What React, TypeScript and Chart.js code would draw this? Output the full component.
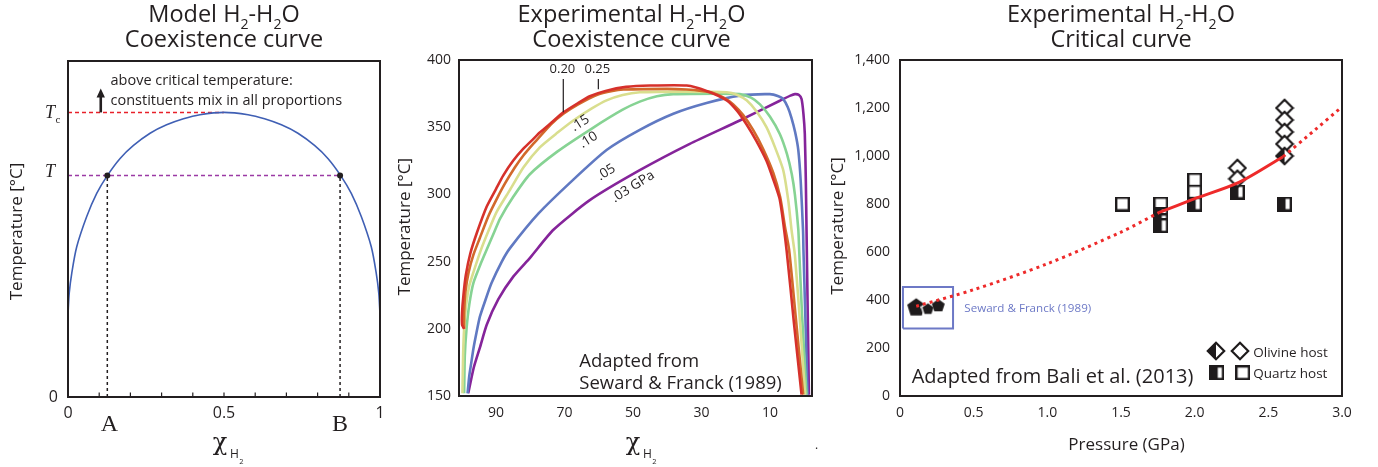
import React, { useEffect, useRef } from 'react';
import { Chart, registerables } from 'chart.js';

Chart.register(...registerables);

const SANS = '"Open Sans", "Noto Sans", sans-serif';
const SERIF = '"Liberation Serif", "DejaVu Serif", serif';
const CHI_FONT = '"DejaVu Serif", "Liberation Serif", serif';
const INK = '#231f20';
const W = 1378;
const H = 467;
const YW = 60;
const XH = 40;

// ---------------- Panel 1: model coexistence curve ----------------
const MODEL_X = [0, 0.004, 0.012, 0.028, 0.06, 0.092, 0.126, 0.167, 0.209, 0.263, 0.316, 0.37, 0.423, 0.5,
  0.577, 0.63, 0.684, 0.737, 0.791, 0.833, 0.874, 0.908, 0.94, 0.972, 0.988, 0.996, 1];
const MODEL_T = [0.246, 0.31, 0.368, 0.447, 0.537, 0.606, 0.659, 0.71, 0.748, 0.785, 0.81, 0.828, 0.84, 0.847,
  0.84, 0.828, 0.81, 0.785, 0.748, 0.71, 0.659, 0.606, 0.537, 0.447, 0.368, 0.31, 0.246];
const MODEL_TICK_LABELS = [0, 0.5, 1];
const T_CRIT = 0.847;
const T_LEVEL = 0.659;
const X_A = 0.126;
const X_B = 0.872;
const X_PEAK = 0.5;
const ARROW_X = 0.105;

// ---------------- Panel 2: experimental coexistence curves ----------------
const EXP_X_TICKS = [90, 70, 50, 30, 10];
const X_025 = [99.3, 99.9, 99.9, 99.5, 98.8, 97.5, 95.5, 92.7, 90.0, 87.9, 85.0, 82.0, 79.0, 77.2, 74.0, 70.3, 66.0, 62.6, 58.0, 52.0, 45.0, 34.3, 28.5, 22.6, 19.5, 16.8, 14.0, 11.0, 9.0, 7.1, 5.1, 3.0, 0.75];
const T_025 = [200, 203, 212, 225, 240, 256, 272, 291, 304, 314, 325, 334, 341.5, 346, 353, 361, 368, 373, 377, 380, 381, 381, 377, 370, 362, 352, 340, 325, 311, 296, 258, 205, 151];
const X_020 = [99.3, 99.3, 98.9, 98.0, 96.6, 94.8, 92.2, 89.5, 87.4, 84.5, 82.0, 79.0, 77.2, 74.0, 70.3, 66.0, 60.6, 56.0, 52.8, 40.0, 34.3, 30.0, 26.6, 23.5, 20.7, 17.8, 14.9, 12.0, 9.0, 7.0, 5.6, 4.4, 2.5, 0.27];
const T_020 = [200, 212, 228, 242, 255, 267, 284, 298, 308, 320, 329, 338, 343, 352, 360, 367, 374, 377, 378, 378.5, 378, 377, 375.5, 372, 367, 359, 348, 334, 316, 298, 276, 259, 210, 151];
const X_015 = [99.8, 99.6, 99.3, 98.7, 97.8, 96.6, 94.5, 92.0, 89.8, 86.0, 82.0, 77.2, 72.0, 67.4, 62.0, 57.7, 53.0, 48.0, 35.0, 22.6, 19.5, 16.8, 14.0, 11.0, 8.5, 6.1, 4.6, 3.7, 2.7, 1.2, -0.3];
const T_015 = [152, 180, 200, 218, 232, 242, 258, 274, 287, 303, 320, 335, 346, 355, 364, 370, 374, 376, 376.5, 376, 374, 370, 362, 350, 335, 318, 295, 274, 255, 205, 151];
const X_010 = [99.3, 99.1, 98.6, 97.8, 96.6, 94.2, 92.7, 90.5, 88.8, 85.0, 80.1, 72.0, 62.0, 53.0, 48.0, 43.0, 38.2, 25.0, 18.8, 15.5, 12.9, 10.0, 7.1, 5.0, 3.6, 2.7, 1.7, 1.45, 0.6, -0.7];
const T_010 = [152, 180, 200, 218, 234, 250, 259, 272, 282, 298, 315, 332, 349, 363, 369, 373, 374.6, 375, 374.6, 372, 367, 358, 345, 330, 315, 300, 274, 259, 210, 151];
const X_005 = [98.3, 97.8, 97.2, 96.6, 95.7, 94.7, 93.0, 91.3, 88.3, 85.9, 77.5, 67.4, 57.7, 48.0, 38.2, 28.5, 18.8, 10.0, 7.5, 6.1, 4.8, 3.7, 2.6, 1.7, 1.0, 0.3, 0.2, -0.4, -1.0];
const T_005 = [152, 165, 175, 185, 197, 209, 222, 234, 250, 260, 286, 311, 333, 348, 360, 368, 373.5, 374.6, 373, 370.9, 365, 357, 346, 333, 310, 272, 259, 205, 151];
const X_003 = [98.1, 96.5, 94.7, 92.7, 89.3, 84.9, 80.0, 73.3, 62.6, 48.0, 33.4, 18.8, 7.1, 4.0, 2.7, 1.5, 0.75, 0.2, -0.2, -0.5, -0.7, -1.4];
const T_003 = [152, 171, 186, 203, 222, 239, 253, 273.5, 295.7, 318, 337.6, 355, 369.7, 373.5, 374.6, 374, 371, 360, 345, 310, 274, 151];
const EXP_COLORS = ['#d6312b', '#d2692b', '#d9de8e', '#86d393', '#6079c2', '#85249a'];

// ---------------- Panel 3: critical curve ----------------
const CRIT_DOT_LOW_P = [0.11, 0.5, 1.0, 1.5, 1.76];
const CRIT_DOT_LOW_T = [374, 443, 551, 683, 765];
const CRIT_SOLID_P = [1.76, 2.0, 2.3, 2.6];
const CRIT_SOLID_T = [765, 822, 890, 997];
const CRIT_DOT_HIGH_P = [2.6, 2.8, 3.0];
const CRIT_DOT_HIGH_T = [997, 1100, 1205];
const QTZ_OPEN_P = [1.51, 1.77, 2.0, 2.0];
const QTZ_OPEN_T = [800, 800, 900, 850];
const QTZ_HALF_P = [1.77, 1.77, 1.77, 2.0, 2.29, 2.61];
const QTZ_HALF_T = [755, 730, 710, 800, 850, 800];
const OL_OPEN_P = [2.29, 2.29, 2.61, 2.61, 2.61, 2.61];
const OL_OPEN_T = [950, 905, 1200, 1150, 1100, 1050];
const OL_HALF_P = [2.61];
const OL_HALF_T = [1000];
const SF_P = [0.11, 0.19, 0.26];
const SF_T = [372, 366, 380];
const SF_BOX_P = [0.02, 0.36];
const SF_BOX_T = [281, 454];
const SF_BLUE = '#6d79c6';
const CRIT_RED = '#ee2a2a';

const pts = (xs: number[], ys: number[]) => xs.map((x, i) => ({ x, y: ys[i] }));

type Seg = { t: string; sub?: boolean };
function rich(ctx: CanvasRenderingContext2D, segs: Seg[], x: number, y: number, size: number, family: string) {
  const items = segs.map((s) => {
    const sz = s.sub ? size * 0.6 : size;
    const font = `${sz}px ${family}`;
    ctx.font = font;
    return { s, font, w: ctx.measureText(s.t).width, dy: s.sub ? size * 0.28 : 0 };
  });
  const total = items.reduce((a, b) => a + b.w, 0);
  let cx = x - total / 2;
  ctx.textAlign = 'left';
  ctx.textBaseline = 'alphabetic';
  for (const it of items) {
    ctx.font = it.font;
    ctx.fillText(it.s.t, cx, y + it.dy);
    cx += it.w;
  }
}
function drawTitle(ctx: CanvasRenderingContext2D, first: string, second: string, cx: number) {
  ctx.fillStyle = INK;
  rich(ctx, [{ t: first + ' H' }, { t: '2', sub: true }, { t: '-H' }, { t: '2', sub: true }, { t: 'O' }], cx, 22, 23.5, SANS);
  ctx.font = `23.5px ${SANS}`;
  ctx.textAlign = 'center';
  ctx.textBaseline = 'alphabetic';
  ctx.fillText(second, cx, 47);
}
function vtext(ctx: CanvasRenderingContext2D, t: string, x: number, y: number, size: number) {
  ctx.save();
  ctx.translate(x, y);
  ctx.rotate(-Math.PI / 2);
  ctx.font = `${size}px ${SANS}`;
  ctx.textAlign = 'center';
  ctx.textBaseline = 'middle';
  ctx.fillStyle = INK;
  ctx.fillText(t, 0, 0);
  ctx.restore();
}
function drawChi(ctx: CanvasRenderingContext2D, cx: number, base: number) {
  ctx.fillStyle = INK;
  ctx.textAlign = 'center';
  ctx.textBaseline = 'alphabetic';
  ctx.font = `24px ${CHI_FONT}`;
  ctx.fillText('χ', cx, base);
  ctx.textAlign = 'left';
  ctx.font = `12px ${SANS}`;
  ctx.fillText('H', cx + 10, base + 8);
  const hw = ctx.measureText('H').width;
  ctx.font = `7.5px ${SANS}`;
  ctx.fillText('2', cx + 10 + hw + 0.5, base + 13.5);
}
function frame(ctx: CanvasRenderingContext2D, a: any) {
  ctx.strokeStyle = INK;
  ctx.lineWidth = 2;
  ctx.strokeRect(a.left, a.top, a.right - a.left, a.bottom - a.top);
}

function makeMarker(kind: string): HTMLCanvasElement {
  const c = document.createElement('canvas');
  const g = c.getContext('2d')!;
  const dark = '#1e1b1c';
  if (kind === 'sqOpen' || kind === 'sqHalf') {
    const s = 15;
    c.width = s; c.height = s;
    g.fillStyle = '#fff';
    g.fillRect(0, 0, s, s);
    if (kind === 'sqHalf') { g.fillStyle = dark; g.fillRect(0, 0, 8.5, s); }
    g.strokeStyle = dark; g.lineWidth = 2.4;
    g.strokeRect(1.2, 1.2, s - 2.4, s - 2.4);
  } else if (kind === 'diOpen' || kind === 'diHalf') {
    const s = 20; const m = s / 2; const e = 1.8;
    c.width = s; c.height = s;
    const path = () => { g.beginPath(); g.moveTo(m, e); g.lineTo(s - e, m); g.lineTo(m, s - e); g.lineTo(e, m); g.closePath(); };
    path(); g.fillStyle = '#fff'; g.fill();
    if (kind === 'diHalf') {
      g.beginPath(); g.moveTo(m, e); g.lineTo(m, s - e); g.lineTo(e, m); g.closePath();
      g.fillStyle = dark; g.fill();
    }
    path(); g.strokeStyle = dark; g.lineWidth = 2.2; g.stroke();
  } else {
    const big = kind === 'pentBig';
    const r = big ? 9.5 : 6.8;
    const s = big ? 20 : 15;
    c.width = s; c.height = s;
    g.beginPath();
    for (let i = 0; i < 5; i++) {
      const ang = -Math.PI / 2 + (i * 2 * Math.PI) / 5;
      const px = s / 2 + r * Math.cos(ang);
      const py = s / 2 + 1 + r * Math.sin(ang);
      if (i === 0) g.moveTo(px, py); else g.lineTo(px, py);
    }
    g.closePath();
    g.fillStyle = dark; g.fill();
    if (kind === 'pentHalf') { g.strokeStyle = '#fff'; g.lineWidth = 1.5; g.stroke(); }
  }
  return c;
}

const baseOpts = (padding: any) => ({
  responsive: false,
  animation: false as const,
  devicePixelRatio: 1,
  events: [] as any[],
  layout: { padding },
  plugins: { legend: { display: false }, tooltip: { enabled: false }, title: { display: false } },
});

const hidden = { grid: { display: false, drawTicks: false }, border: { display: false } };
const fitX = (s: any) => { s.height = XH; };
const fitY = (s: any) => { s.width = YW; };

function config1(): any {
  const decor = {
    id: 'modelDecor',
    afterDraw(chart: any) {
      const { ctx, chartArea: a, scales: { x, y } } = chart;
      ctx.save();
      ctx.fillStyle = INK; ctx.strokeStyle = INK;
      ctx.lineWidth = 1.2;
      x.ticks.forEach((t: any) => {
        if (t.value <= 0.001 || t.value >= 0.999) return;
        const px = x.getPixelForValue(t.value);
        ctx.beginPath(); ctx.moveTo(px, a.bottom); ctx.lineTo(px, a.bottom - 4.5); ctx.stroke();
      });
      frame(ctx, a);
      const yc = y.getPixelForValue(T_CRIT);
      const yt = y.getPixelForValue(T_LEVEL);
      ctx.fillStyle = INK;
      ctx.font = `italic 18px ${SERIF}`; ctx.textAlign = 'left'; ctx.textBaseline = 'alphabetic';
      ctx.fillText('T', 45, yt + 1.5);
      ctx.fillText('T', 45, yc + 6);
      const tw = ctx.measureText('T').width;
      ctx.font = `11px ${SERIF}`;
      ctx.fillText('c', 45 + tw + 0.5, yc + 11);
      ctx.font = `24px ${SERIF}`; ctx.textAlign = 'center';
      ctx.fillText('A', x.getPixelForValue(X_A) + 2, 431);
      ctx.fillText('B', x.getPixelForValue(X_B), 431);
      drawChi(ctx, 220, 450);
      const ax = x.getPixelForValue(ARROW_X);
      ctx.lineWidth = 2.6;
      ctx.beginPath(); ctx.moveTo(ax, yc); ctx.lineTo(ax, yc - 16); ctx.stroke();
      ctx.beginPath(); ctx.moveTo(ax, yc - 24); ctx.lineTo(ax - 4.2, yc - 15); ctx.lineTo(ax + 4.2, yc - 15); ctx.closePath(); ctx.fill();
      ctx.font = `14.5px ${SANS}`; ctx.textAlign = 'left'; ctx.textBaseline = 'alphabetic';
      ctx.fillText('above critical temperature:', 110.5, 85);
      ctx.fillText('constituents mix in all proportions', 110.5, 105);
      vtext(ctx, 'Temperature [°C]', 17.5, 231.5, 17);
      drawTitle(ctx, 'Model', 'Coexistence curve', 224);
      ctx.restore();
    },
  };
  return {
    type: 'scatter',
    data: {
      datasets: [
        { data: [{ x: X_A, y: T_LEVEL }, { x: X_B, y: T_LEVEL }], pointRadius: 3, pointBackgroundColor: INK, pointBorderWidth: 0 },
        { data: MODEL_X.map((x, i) => ({ x, y: MODEL_T[i] })), showLine: true, borderColor: '#3f5fb4', borderWidth: 1.6, pointRadius: 0, tension: 0.3 },
        { data: [{ x: 0, y: T_CRIT }, { x: X_PEAK, y: T_CRIT }], showLine: true, borderColor: '#e8202a', borderWidth: 1.5, borderDash: [4, 3], pointRadius: 0 },
        { data: [{ x: 0, y: T_LEVEL }, { x: X_B, y: T_LEVEL }], showLine: true, borderColor: '#9b3aa5', borderWidth: 1.5, borderDash: [4, 3], pointRadius: 0 },
        { data: [{ x: X_A, y: 0 }, { x: X_A, y: T_LEVEL }], showLine: true, borderColor: INK, borderWidth: 1.5, borderDash: [3, 3], pointRadius: 0 },
        { data: [{ x: X_B, y: 0 }, { x: X_B, y: T_LEVEL }], showLine: true, borderColor: INK, borderWidth: 1.5, borderDash: [3, 3], pointRadius: 0 },
      ],
    },
    options: {
      ...baseOpts({ left: 68 - YW, right: W - 380, top: 61, bottom: H - 397 - XH }),
      scales: {
        x: {
          type: 'linear', min: 0, max: 1, ...hidden,
          afterFit: fitX,
          ticks: {
            stepSize: 0.1, autoSkip: false, maxRotation: 0, padding: 7, color: INK, font: { family: SANS, size: 16 },
            callback: (v: any) => (MODEL_TICK_LABELS.some((l) => Math.abs(l - v) < 1e-6) ? String(+v) : ''),
          },
        },
        y: {
          type: 'linear', min: 0, max: 1, ...hidden,
          afterFit: fitY,
          afterBuildTicks: (s: any) => { s.ticks = [{ value: 0 }]; },
          ticks: { padding: 10, color: INK, font: { family: SANS, size: 16 }, callback: (v: any) => String(v) },
        },
      },
    },
    plugins: [decor],
  };
}

function config2(): any {
  const series = [
    [X_025, T_025], [X_020, T_020], [X_015, T_015], [X_010, T_010], [X_005, T_005], [X_003, T_003],
  ];
  const decor = {
    id: 'expDecor',
    afterDraw(chart: any) {
      const { ctx, chartArea: a, scales: { x, y } } = chart;
      ctx.save();
      frame(ctx, a);
      ctx.fillStyle = INK; ctx.strokeStyle = INK;
      ctx.font = `13px ${SANS}`; ctx.textAlign = 'center'; ctx.textBaseline = 'middle';
      ctx.fillText('0.20', x.getPixelForValue(70.6), y.getPixelForValue(393.1));
      ctx.fillText('0.25', x.getPixelForValue(60.4), y.getPixelForValue(393.1));
      ctx.lineWidth = 1.2;
      ctx.beginPath();
      ctx.moveTo(x.getPixelForValue(70.34), y.getPixelForValue(385.9));
      ctx.lineTo(x.getPixelForValue(70.34), y.getPixelForValue(361.1));
      ctx.moveTo(x.getPixelForValue(60.1), y.getPixelForValue(385.9));
      ctx.lineTo(x.getPixelForValue(60.1), y.getPixelForValue(378.2));
      ctx.stroke();
      const rot = (t: string, dx: number, dy: number) => {
        ctx.save();
        ctx.translate(x.getPixelForValue(dx), y.getPixelForValue(dy));
        ctx.rotate(-32 * Math.PI / 180);
        ctx.font = `13.5px ${SANS}`; ctx.textAlign = 'center'; ctx.textBaseline = 'middle';
        ctx.fillText(t, 0, 0);
        ctx.restore();
      };
      rot('.15', 65.4, 352.9);
      rot('.10', 63.0, 340.5);
      rot('.05', 57.8, 316.4);
      rot('.03 GPa', 50.0, 305.7);
      ctx.font = `18.5px ${SANS}`; ctx.textAlign = 'left'; ctx.textBaseline = 'alphabetic';
      ctx.fillText('Adapted from', 579.3, 366.5);
      ctx.fillText('Seward & Franck (1989)', 579.3, 388.5);
      vtext(ctx, 'Temperature [°C]', 405, 226.7, 17);
      drawChi(ctx, 633, 450);
      ctx.font = `12px ${SANS}`; ctx.textAlign = 'center';
      ctx.fillText('.', 816.5, 449);
      drawTitle(ctx, 'Experimental', 'Coexistence curve', 631.5);
      ctx.restore();
    },
  };
  return {
    type: 'scatter',
    data: {
      datasets: series.map((s, i) => ({
        data: pts(s[0], s[1]), showLine: true, borderColor: EXP_COLORS[i], borderWidth: 2.6, pointRadius: 0, tension: 0.2,
      })),
    },
    options: {
      ...baseOpts({ left: 459 - YW, right: W - 812, top: 60, bottom: H - 396 - XH }),
      scales: {
        x: {
          type: 'linear', min: -2.3, max: 100.8, reverse: true, ...hidden,
          afterFit: fitX,
          afterBuildTicks: (s: any) => { s.ticks = EXP_X_TICKS.map((v) => ({ value: v })); },
          ticks: { autoSkip: false, maxRotation: 0, padding: 9, color: INK, font: { family: SANS, size: 14 } },
        },
        y: {
          type: 'linear', min: 150, max: 400, ...hidden,
          afterFit: fitY,
          ticks: { stepSize: 50, padding: 8, color: INK, font: { family: SANS, size: 14 } },
        },
      },
    },
    plugins: [decor],
  };
}

function config3(m: Record<string, HTMLCanvasElement>): any {
  const decor = {
    id: 'critDecor',
    afterDraw(chart: any) {
      const { ctx, chartArea: a } = chart;
      ctx.save();
      frame(ctx, a);
      ctx.fillStyle = SF_BLUE;
      ctx.font = `11.6px ${SANS}`; ctx.textAlign = 'left'; ctx.textBaseline = 'alphabetic';
      ctx.fillText('Seward & Franck (1989)', 964.3, 311.7);
      ctx.fillStyle = INK;
      ctx.font = `20px ${SANS}`;
      ctx.fillText('Adapted from Bali et al. (2013)', 911.7, 382.7);
      const img = (c: HTMLCanvasElement, cx: number, cy: number) => ctx.drawImage(c, cx - c.width / 2, cy - c.height / 2);
      img(m.diHalf, 1216, 351);
      img(m.diOpen, 1240, 351);
      img(m.sqHalf, 1216.7, 372.7);
      img(m.sqOpen, 1242.7, 372.7);
      ctx.font = `13.5px ${SANS}`;
      ctx.fillText('Olivine host', 1253.3, 356.7);
      ctx.fillText('Quartz host', 1253.3, 377.8);
      ctx.font = `17px ${SANS}`; ctx.textAlign = 'center';
      ctx.fillText('Pressure (GPa)', 1126.5, 450);
      vtext(ctx, 'Temperature [°C]', 838, 226, 17);
      drawTitle(ctx, 'Experimental', 'Critical curve', 1121);
      ctx.restore();
    },
  };
  const box = [
    { x: SF_BOX_P[0], y: SF_BOX_T[0] }, { x: SF_BOX_P[1], y: SF_BOX_T[0] },
    { x: SF_BOX_P[1], y: SF_BOX_T[1] }, { x: SF_BOX_P[0], y: SF_BOX_T[1] }, { x: SF_BOX_P[0], y: SF_BOX_T[0] },
  ];
  return {
    type: 'scatter',
    data: {
      datasets: [
        { data: pts(CRIT_DOT_LOW_P, CRIT_DOT_LOW_T), showLine: true, borderColor: CRIT_RED, borderWidth: 3, borderDash: [3, 4], pointRadius: 0, tension: 0.3 },
        { data: pts(CRIT_SOLID_P, CRIT_SOLID_T), showLine: true, borderColor: CRIT_RED, borderWidth: 3, pointRadius: 0, tension: 0.3 },
        { data: pts(CRIT_DOT_HIGH_P, CRIT_DOT_HIGH_T), showLine: true, borderColor: CRIT_RED, borderWidth: 3, borderDash: [3, 4], pointRadius: 0, tension: 0.2 },
        { data: pts(SF_P, SF_T), pointStyle: [m.pentBig, m.pentHalf, m.pentSmall], pointRadius: 5 },
        { data: box, showLine: true, borderColor: SF_BLUE, borderWidth: 2, pointRadius: 0, tension: 0 },
        { data: pts(OL_HALF_P, OL_HALF_T), pointStyle: m.diHalf, pointRadius: 5 },
        { data: pts(OL_OPEN_P, OL_OPEN_T), pointStyle: m.diOpen, pointRadius: 5 },
        { data: pts(QTZ_HALF_P, QTZ_HALF_T), pointStyle: m.sqHalf, pointRadius: 5 },
        { data: pts(QTZ_OPEN_P, QTZ_OPEN_T), pointStyle: m.sqOpen, pointRadius: 5 },
      ],
    },
    options: {
      ...baseOpts({ left: 900 - YW, right: W - 1342, top: 60, bottom: H - 396 - XH }),
      scales: {
        x: {
          type: 'linear', min: 0, max: 3, ...hidden,
          afterFit: fitX,
          ticks: {
            stepSize: 0.5, autoSkip: false, maxRotation: 0, padding: 9, color: INK, font: { family: SANS, size: 14 },
            callback: (v: any) => (Number(v) === 0 ? '0' : Number(v).toFixed(1)),
          },
        },
        y: {
          type: 'linear', min: 0, max: 1400, ...hidden,
          afterFit: fitY,
          ticks: {
            stepSize: 200, padding: 10, color: INK, font: { family: SANS, size: 14 },
            callback: (v: any) => Number(v).toLocaleString('en-US'),
          },
        },
      },
    },
    plugins: [decor],
  };
}

export default function App() {
  const r1 = useRef<HTMLCanvasElement>(null);
  const r2 = useRef<HTMLCanvasElement>(null);
  const r3 = useRef<HTMLCanvasElement>(null);
  useEffect(() => {
    document.body.style.margin = '0';
    const markers: Record<string, HTMLCanvasElement> = {};
    ['sqOpen', 'sqHalf', 'diOpen', 'diHalf', 'pentBig', 'pentHalf', 'pentSmall'].forEach((k) => { markers[k] = makeMarker(k); });
    const charts = [
      new Chart(r1.current!, config1()),
      new Chart(r2.current!, config2()),
      new Chart(r3.current!, config3(markers)),
    ];
    return () => charts.forEach((c) => c.destroy());
  }, []);
  const cs: React.CSSProperties = { position: 'absolute', left: 0, top: 0 };
  return (
    <div style={{ position: 'fixed', left: 0, top: 0, width: W, height: H, background: '#fff' }}>
      <canvas ref={r1} width={W} height={H} style={cs} />
      <canvas ref={r2} width={W} height={H} style={cs} />
      <canvas ref={r3} width={W} height={H} style={cs} />
    </div>
  );
}
